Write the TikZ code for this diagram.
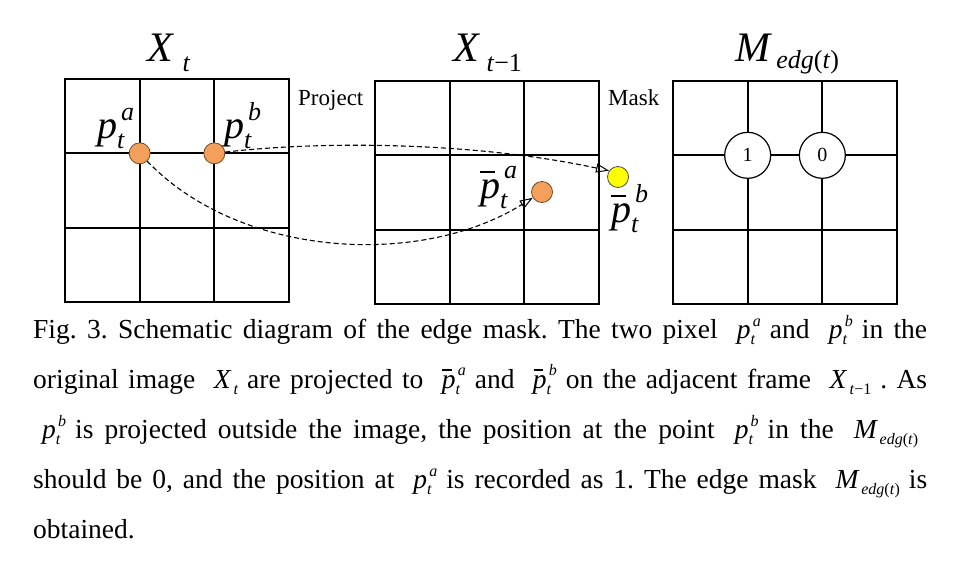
\documentclass[tikz,border=0pt]{standalone}
\usepackage{fontspec}
\setmainfont{Liberation Serif}
\usetikzlibrary{arrows.meta}
\definecolor{dotorange}{RGB}{244,160,92}
\definecolor{dotedge}{RGB}{110,75,40}
\definecolor{dotyellow}{RGB}{255,255,0}
% base with stacked superscript and subscript
% #1 base, #2 sup, #3 sub, #4 script size, #5 raise, #6 lower, #7 sup shift
\newcommand\ssx[7]{\begingroup #1%
  \setbox0\hbox{\fontsize{#4}{#4}\selectfont\itshape #2}%
  \setbox2\hbox{\fontsize{#4}{#4}\selectfont\itshape #3}%
  \dimen0=\wd0 \advance\dimen0 by #7\relax
  \ifdim\dimen0<\wd2 \dimen0=\wd2 \fi
  \rlap{\kern#7\raise#5\box0}\rlap{\lower#6\box2}\kern\dimen0
  \endgroup}
% base with subscript: #1 base, #2 sub, #3 size, #4 lower, #5 kern
\newcommand\sbx[5]{\begingroup #1\kern#5\lower#4\hbox{\fontsize{#3}{#3}\selectfont\itshape #2}\endgroup}
\newcommand\pbar[1]{\rlap{\kern#1\raise0.62em\hbox{\vrule width0.36em height0.055em depth0pt}}\textit{p}}
% diagram labels
\newcommand\lp[1]{\ssx{\textit{p}}{#1}{t}{26pt}{0.44em}{0.26em}{0.1em}}
\newcommand\lbp[1]{\ssx{\pbar{0.0em}}{#1}{t}{26pt}{0.48em}{0.27em}{0.1em}}
% caption math
\newcommand\cp[1]{\ssx{\textit{p}}{#1}{t}{16pt}{0.42em}{0.22em}{0.08em}}
\newcommand\cbp[1]{\ssx{\pbar{0.02em}}{#1}{t}{16pt}{0.44em}{0.22em}{0.08em}}
\newcommand\cX[1]{\sbx{\textit{X}}{#1}{16pt}{0.22em}{0.08em}}
\newcommand\cM{\sbx{\textit{M}}{edg\textup{(}t\textup{)}}{16pt}{0.22em}{0.06em}}
\newcommand\mm[1]{\kern9pt#1\kern9pt}
\begin{document}
\frenchspacing
\begin{tikzpicture}[x=1pt,y=-1pt,
  gridline/.style={line width=2pt,line cap=rect},
  dotor/.style={circle,fill=dotorange,draw=dotedge,line width=0.8pt,minimum size=21pt,inner sep=0pt},
  dotye/.style={dotor,fill=dotyellow,draw=black!70},
  mcirc/.style={circle,fill=white,draw=black,line width=1.2pt,minimum size=46pt,inner sep=0pt,font=\fontsize{20}{20}\selectfont},
  proj/.style={draw=black,line width=1.1pt,dash pattern=on 5pt off 3pt,
    -{Triangle[open,length=13pt,width=9pt,line width=1pt]}},
  lbl/.style={anchor=base west,inner sep=0pt,font=\fontsize{40}{40}\selectfont},
  ttl/.style={anchor=base west,inner sep=0pt,font=\fontsize{42}{42}\selectfont},
  word/.style={anchor=base west,inner sep=0pt,font=\fontsize{23}{23}\selectfont},
  captext/.style={anchor=base west,inner sep=0pt,font=\fontsize{27.5}{27.5}\selectfont\frenchspacing}
]
\fill[white] (0,0) rectangle (960,573);
\useasboundingbox (0,0) rectangle (960,573);
% grids
\foreach \gx/\gy in {65/79, 375/81, 673/81} {
  \draw[gridline] (\gx,\gy) rectangle ++(224,223);
  \foreach \k in {1,2} {
    \draw[gridline] ({\gx+\k*74.67},\gy) -- ++(0,223);
    \draw[gridline] (\gx,{\gy+\k*74.33}) -- ++(224,0);
  }
}
% titles
\node[ttl] (tX) at (147,61) {\sbx{\textit{X}}{t}{26pt}{0.26em}{0.2em}};
\node[ttl] (tX1) at (453,61) {\sbx{\textit{X}}{t\textup{−1}}{26pt}{0.26em}{0.15em}};
\node[ttl] (tM) at (735,61) {\sbx{\textit{M}}{edg\textup{(}t\textup{)}}{26pt}{0.17em}{0.1em}};
% side words
\node[word] (wproj) at (298,105) {Project};
\node[word] (wmask) at (608,105) {Mask};
% points
\node[dotor] (pa) at (139.67,153.33) {};
\node[dotor] (pb) at (214.33,153.33) {};
\node[dotor] (qa) at (542,192) {};
\node[dotye] (qb) at (618,177) {};
% mask values
\node[mcirc] (m1) at (747.67,155.33) {1};
\node[mcirc] (m0) at (822.33,155.33) {0};
% projections
\draw[proj] (pb) .. controls (330,140) and (480,143) .. (qb.145);
\draw[proj] (pa) .. controls (240,258) and (420,268) .. (qa);
% point labels
\node[lbl] (lpa) at (97,138) {\lp{a}};
\node[lbl] (lpb) at (224,138) {\lp{b}};
\node[lbl] (lqa) at (480,198) {\lbp{a}};
\node[lbl] (lqb) at (611,222) {\lbp{b}};
% caption
\node[captext] (c1) at (33,338) {\makebox[894pt][s]{Fig. 3. Schematic diagram of the edge mask. The two pixel \mm{\cp{a}} and \mm{\cp{b}} in the}};
\node[captext] (c2) at (33,388) {\makebox[894pt][s]{original image \mm{\cX{t}} are projected to \mm{\cbp{a}} and \mm{\cbp{b}} on the adjacent frame \mm{\cX{t\textup{−1}}}. As}};
\node[captext] (c3) at (33,438) {\makebox[894pt][s]{\mm{\cp{b}} is projected outside the image, the position at the point \mm{\cp{b}} in the \mm{\cM}}};
\node[captext] (c4) at (33,488) {\makebox[894pt][s]{should be 0, and the position at \mm{\cp{a}} is recorded as 1. The edge mask \mm{\cM} is}};
\node[captext] (c5) at (33,538) {obtained.};
\end{tikzpicture}
\end{document}
